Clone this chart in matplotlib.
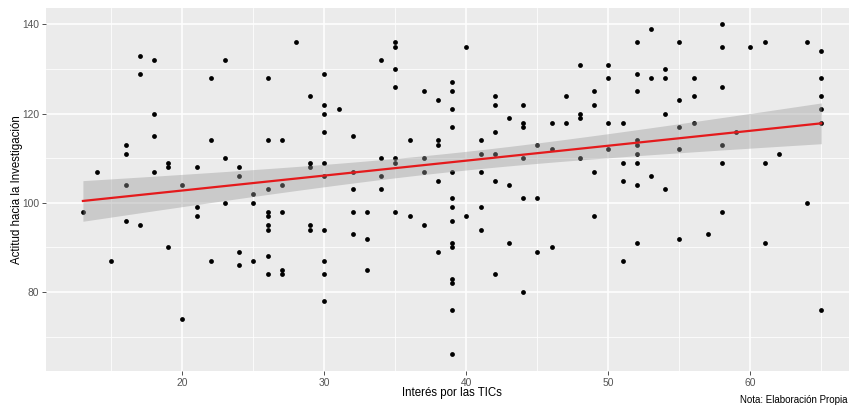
import numpy as np
import matplotlib
matplotlib.use("Agg")
import matplotlib.pyplot as plt

plt.rcParams['font.family'] = ['Liberation Sans', 'DejaVu Sans']

# Data: x value -> list of y values
x_values = [13, 14, 15, 16, 17, 18, 19, 20, 21, 22, 23, 24, 25, 26, 27, 28, 29, 30,
            31, 32, 33, 34, 35, 36, 37, 38, 39, 40, 41, 42, 43, 44, 45, 46, 47, 48,
            49, 50, 51, 52, 53, 54, 55, 56, 57, 58, 59, 60, 61, 62, 64, 65]
y_groups = [
    [98],
    [107],
    [87],
    [113, 111, 104, 96],
    [133, 129, 95],
    [132, 120, 115, 107],
    [109, 108, 90],
    [104, 74],
    [108, 99, 97],
    [128, 114, 87],
    [132, 110, 100],
    [108, 106, 89, 86],
    [102, 100, 87],
    [128, 114, 103, 98, 97, 95, 94, 88, 84],
    [114, 104, 98, 85, 84],
    [136],
    [124, 109, 108, 95, 94],
    [129, 122, 120, 116, 109, 106, 94, 87, 84, 78],
    [121],
    [115, 107, 103, 98, 93],
    [98, 92, 85],
    [132, 110, 106, 103],
    [136, 135, 130, 126, 110, 109, 98],
    [114, 97],
    [125, 110, 107, 95],
    [123, 114, 113, 105, 89],
    [127, 125, 121, 117, 107, 101, 99, 96, 91, 90, 83, 82, 76, 66],
    [135, 97],
    [114, 111, 107, 99, 94],
    [124, 122, 116, 111, 105, 84],
    [119, 104, 91],
    [122, 118, 117, 110, 101, 80],
    [113, 101, 89],
    [118, 112, 90],
    [124, 118],
    [131, 120, 119, 110],
    [125, 122, 107, 97],
    [131, 128, 118, 112],
    [118, 109, 105, 87],
    [136, 129, 125, 114, 113, 111, 109, 104, 91],
    [139, 128, 106],
    [130, 128, 120, 103],
    [136, 123, 117, 112, 92],
    [128, 124, 118],
    [93],
    [140, 135, 126, 113, 109, 98],
    [116],
    [135],
    [136, 109, 91],
    [111],
    [136, 100],
    [134, 128, 124, 121, 118, 76],
]

x_label = "Interés por las TICs"
y_label = "Actitud hacia la Investigación"
caption = "Nota: Elaboración Propia"
x_ticks = [20, 30, 40, 50, 60]
y_ticks = [80, 100, 120, 140]

xs = np.array([xv for xv, ys in zip(x_values, y_groups) for _ in ys], dtype=float)
ys = np.array([yv for ys_ in y_groups for yv in ys_], dtype=float)

# linear model with 95% confidence band
n = len(xs)
slope, intercept = np.polyfit(xs, ys, 1)
resid = ys - (intercept + slope * xs)
s = np.sqrt(np.sum(resid ** 2) / (n - 2))
xbar = xs.mean()
sxx = np.sum((xs - xbar) ** 2)
xg = np.linspace(xs.min(), xs.max(), 100)
yg = intercept + slope * xg
se = s * np.sqrt(1.0 / n + (xg - xbar) ** 2 / sxx)
tq = 1.97
lo, hi = yg - tq * se, yg + tq * se

W, H = 849, 415
fig = plt.figure(figsize=(W / 100, H / 100), dpi=100)
ax_left, ax_top, ax_bottom = 46, 8, 371
ax = fig.add_axes([ax_left / W, 1 - ax_bottom / H, 1 - ax_left / W, (ax_bottom - ax_top) / H])
ax.set_facecolor('#EBEBEB')

ax.set_xlim(10.4, 66.95)
ax.set_ylim(62.3, 143.7)
ax.set_xticks(x_ticks)
ax.set_yticks(y_ticks)
ax.set_xticks([15, 25, 35, 45, 55, 65], minor=True)
ax.set_yticks([70, 90, 110, 130], minor=True)
ax.grid(which='major', color='white', linewidth=1.1)
ax.grid(which='minor', color='white', linewidth=0.55)
ax.set_axisbelow(True)
for sp in ax.spines.values():
    sp.set_visible(False)
ax.tick_params(which='major', length=3, width=0.6, color='#333333',
               labelsize=7.4, labelcolor='#555555', pad=2)
ax.tick_params(which='minor', length=0)

ax.scatter(xs, ys, s=12, color='black', linewidths=0, zorder=3)
ax.fill_between(xg, lo, hi, color='#999999', alpha=0.4, linewidth=0, zorder=4)
ax.plot(xg, yg, color='#E41A1C', linewidth=1.6, zorder=5)

ax.set_xlabel(x_label, fontsize=8.3, color='black')
ax.set_ylabel(y_label, fontsize=8.3, color='black')
aw = W - ax_left
ah = ax_bottom - ax_top
ax.xaxis.set_label_coords((452 - ax_left) / aw, -(387 - ax_bottom) / ah)
ax.yaxis.set_label_coords(-(ax_left - 23) / aw, 0.5)

fig.text(848 / W, 1 - 400 / H, caption, fontsize=7, ha='right', va='center', color='black')

fig.savefig('out.png', dpi=100)
